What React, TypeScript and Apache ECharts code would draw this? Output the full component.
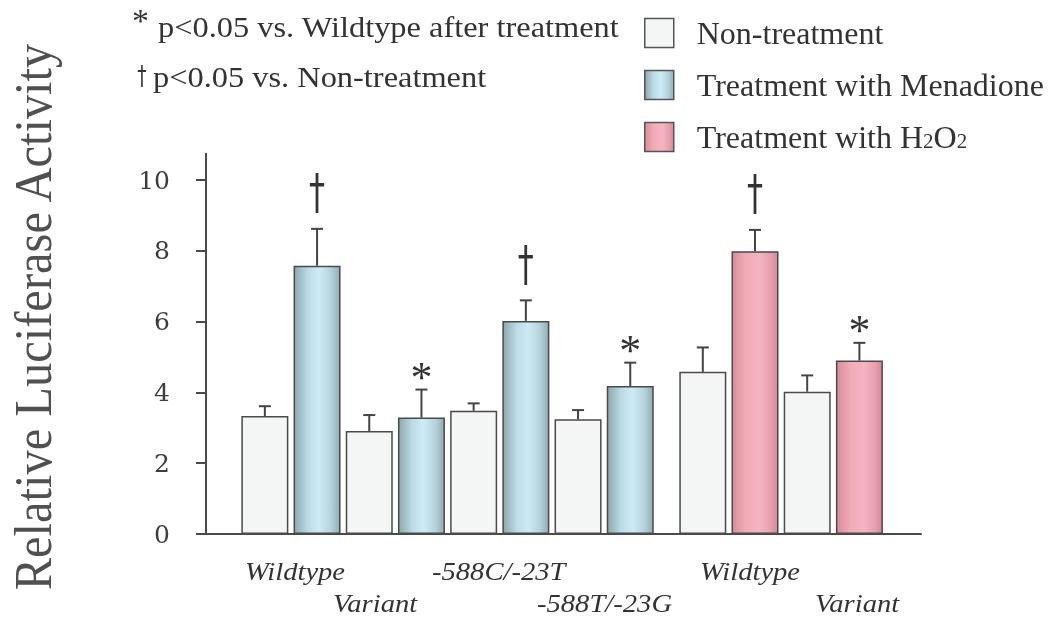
import React, { useEffect, useRef } from "react";
import * as echarts from "echarts";

// ---- data ----
const genotypes = ["Wildtype", "Variant", "-588C/-23T", "-588T/-23G", "Wildtype", "Variant"];
const pairTreatment = ["Menadione", "Menadione", "Menadione", "Menadione", "H2O2", "H2O2"];
const nonTreatment = [3.33, 2.91, 3.48, 3.24, 4.58, 4.02];
const nonTreatmentSD = [0.28, 0.45, 0.21, 0.26, 0.69, 0.46];
const treated = [7.58, 3.29, 6.02, 4.18, 7.99, 4.9];
const treatedSD = [1.04, 0.79, 0.58, 0.66, 0.6, 0.5];
const significance = ["†", "*", "†", "*", "†", "*"];
const seriesNames = ["Non-treatment", "Treatment with Menadione", "Treatment with H2O2"];
const noteLines = ["p<0.05 vs. Wildtype after treatment", "p<0.05 vs. Non-treatment"];
const noteSymbols = ["*", "†"];
const yTitle = "Relative Luciferase Activity";

// ---- layout ----
const FONT = "Liberation Serif";
const DAGGER_FONT = "DejaVu Sans";
const barPos = (j: number) => 1.3 + j + (j >= 8 ? 0.39 : 0);
const labelLeft = [245, 333, 432, 537, 700, 815];
const labelRowY = [571, 603];

const blueGrad = {
  type: "linear", x: 0, y: 0, x2: 1, y2: 0,
  colorStops: [
    { offset: 0, color: "#8fa7ad" },
    { offset: 0.3, color: "#bcdbe6" },
    { offset: 0.55, color: "#cdebf6" },
    { offset: 0.8, color: "#b6d3dd" },
    { offset: 1, color: "#93acb3" },
  ],
};
const pinkGrad = {
  type: "linear", x: 0, y: 0, x2: 1, y2: 0,
  colorStops: [
    { offset: 0, color: "#d88d9b" },
    { offset: 0.3, color: "#f1aab7" },
    { offset: 0.6, color: "#f5b5c1" },
    { offset: 0.85, color: "#e79ead" },
    { offset: 1, color: "#d48897" },
  ],
};

export default function App() {
  const ref = useRef<HTMLDivElement>(null);
  useEffect(() => {
    if (!ref.current) return;
    const chart = echarts.init(ref.current, undefined, { renderer: "svg" });

    const nonData = nonTreatment.map((v, p) => [barPos(2 * p), v]);
    const menData: any[] = [];
    const h2Data: any[] = [];
    treated.forEach((v, p) => {
      if (pairTreatment[p] === "Menadione") menData.push([barPos(2 * p + 1), v]);
      else h2Data.push([barPos(2 * p + 1), v]);
    });
    const errData: any[] = [];
    nonTreatment.forEach((v, p) => {
      errData.push([barPos(2 * p), v, nonTreatmentSD[p]]);
      errData.push([barPos(2 * p + 1), treated[p], treatedSD[p]]);
    });
    const markData = treated.map((v, p) => [barPos(2 * p + 1), v + treatedSD[p]]);

    const barBorder = { borderColor: "#4a4a4a", borderWidth: 1.5 };

    const legendText: Record<string, string> = {
      "Non-treatment": "{gap| }Non-treatment",
      "Treatment with Menadione": "{gap| }Treatment with Menadione",
      "Treatment with H2O2": "{gap| }Treatment with H{sub|2}O{sub|2}",
    };

    const graphics: any[] = [
      {
        type: "line",
        shape: { x1: 206, y1: 153, x2: 206, y2: 181 },
        style: { stroke: "#4a4a4a", lineWidth: 2 },
      },
      {
        type: "text",
        x: 33,
        y: 317,
        rotation: Math.PI / 2,
        scaleY: 1.1,
        style: {
          text: yTitle, fontFamily: FONT, fontSize: 48.5, fill: "#505050",
          align: "center", verticalAlign: "middle",
        },
      },
    ];
    noteLines.forEach((t, i) => {
      const isDagger = noteSymbols[i] === "†";
      graphics.push({
        type: "text",
        x: isDagger ? 142 : 132,
        y: isDagger ? 76 : 20,
        scaleX: isDagger ? 0.85 : 1,
        scaleY: isDagger ? 1.2 : 1,
        style: {
          text: noteSymbols[i], fontFamily: isDagger ? DAGGER_FONT : FONT,
          fontSize: isDagger ? 22 : 34, fill: "#333",
          align: isDagger ? "center" : "left", verticalAlign: "middle",
        },
      });
      graphics.push({
        type: "text",
        x: i === 0 ? 158 : 153,
        y: i === 0 ? 27 : 77,
        scaleX: 1.08,
        style: {
          text: t, fontFamily: FONT, fontSize: 30, fill: "#333",
          align: "left", verticalAlign: "middle",
        },
      });
    });
    genotypes.forEach((g, i) => {
      graphics.push({
        type: "text",
        x: labelLeft[i],
        y: labelRowY[i % 2],
        scaleX: 1.1,
        style: {
          text: g, fontFamily: FONT, fontSize: 26, fontStyle: "italic", fill: "#333",
          align: "left", verticalAlign: "middle",
        },
      });
    });

    chart.setOption({
      animation: false,
      grid: { left: 197, right: 138, top: 180, bottom: 94, containLabel: false },
      legend: {
        data: seriesNames,
        orient: "vertical",
        left: 644,
        top: 17,
        padding: 0,
        itemWidth: 29,
        itemHeight: 29,
        itemGap: 20,
        icon: "rect",
        itemStyle: { borderColor: "#555", borderWidth: 1.5 },
        formatter: (name: string) => legendText[name] || name,
        textStyle: {
          fontFamily: FONT, fontSize: 32, color: "#333", lineHeight: 29,
          rich: {
            gap: { width: 18, fontSize: 32, lineHeight: 29 },
            sub: { fontFamily: FONT, fontSize: 21, color: "#333", verticalAlign: "bottom", lineHeight: 6 },
          },
        },
      },
      xAxis: {
        type: "value",
        min: 0,
        max: 13.87,
        axisLine: { show: true, onZero: false, lineStyle: { color: "#4a4a4a", width: 2 } },
        axisTick: { show: false },
        axisLabel: { show: false },
        splitLine: { show: false },
      },
      yAxis: {
        type: "value",
        min: 0,
        max: 10,
        interval: 2,
        offset: -9,
        axisLine: { show: true, onZero: false, lineStyle: { color: "#4a4a4a", width: 2 } },
        axisTick: { show: true, inside: false, length: 10, lineStyle: { color: "#4a4a4a", width: 2 } },
        axisLabel: { margin: 36, fontFamily: "DejaVu Serif", fontSize: 25, color: "#3d3d3d" },
        splitLine: { show: false },
      },
      graphic: graphics,
      series: [
        {
          name: seriesNames[0],
          type: "bar",
          data: nonData,
          barWidth: 47,
          barGap: "-100%",
          itemStyle: { color: "#f4f6f6", ...barBorder },
        },
        {
          name: seriesNames[1],
          type: "bar",
          data: menData,
          barWidth: 47,
          barGap: "-100%",
          itemStyle: { color: blueGrad, ...barBorder },
        },
        {
          name: seriesNames[2],
          type: "bar",
          data: h2Data,
          barWidth: 47,
          barGap: "-100%",
          itemStyle: { color: pinkGrad, ...barBorder },
        },
        {
          name: "SD",
          type: "custom",
          silent: true,
          z: 3,
          data: errData,
          renderItem: (params: any, api: any) => {
            const x = api.value(0);
            const v = api.value(1);
            const sd = api.value(2);
            const p0 = api.coord([x, v]);
            const p1 = api.coord([x, v + sd]);
            const st = { stroke: "#444", lineWidth: 2 };
            return {
              type: "group",
              children: [
                { type: "line", shape: { x1: p0[0], y1: p0[1], x2: p1[0], y2: p1[1] }, style: st },
                { type: "line", shape: { x1: p1[0] - 6, y1: p1[1], x2: p1[0] + 6, y2: p1[1] }, style: st },
              ],
            };
          },
        },
        {
          name: "Significance",
          type: "custom",
          silent: true,
          z: 3,
          data: markData,
          renderItem: (params: any, api: any) => {
            const sym = significance[params.dataIndex];
            const p = api.coord([api.value(0), api.value(1)]);
            const dagger = sym === "†";
            return {
              type: "text",
              x: p[0],
              y: dagger ? p[1] - 37 : p[1] - 12,
              scaleX: dagger ? 0.8 : 1,
              scaleY: dagger ? 1.2 : 1,
              style: {
                text: sym, fontFamily: dagger ? DAGGER_FONT : FONT,
                fontSize: dagger ? 40 : 44, fill: "#333",
                align: "center", verticalAlign: "middle",
              },
            };
          },
        },
      ],
    });
    return () => chart.dispose();
  }, []);
  return <div ref={ref} style={{ position: "fixed", left: 0, top: 0, width: 1059, height: 628 }} />;
}
